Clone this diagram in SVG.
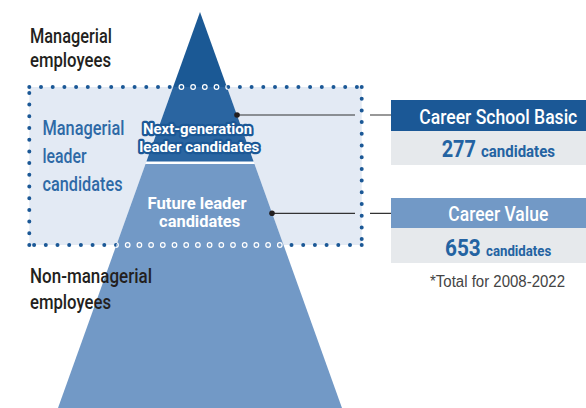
<svg xmlns="http://www.w3.org/2000/svg" width="586" height="408" viewBox="0 0 586 408">
  <style>
    .t { font-family: Roboto, "Liberation Sans", Arial, sans-serif; }
    .dark { fill: #231f20; font-size: 20px; font-weight: 500; }
    .blue { fill: #2e69a6; font-size: 20px; font-weight: 500; }
    .inner { fill: #ffffff; font-size: 15.5px; font-weight: bold; text-anchor: middle; }
    .outl { stroke: #1b5896; stroke-width: 4.5; stroke-linejoin: round; paint-order: stroke; }
    .hdr { fill: #ffffff; font-size: 20px; font-weight: 500; }
    .num { fill: #2463a2; font-weight: bold; }
    .note { fill: #444444; font-size: 16px; font-family: "Liberation Sans", Arial, sans-serif; }
    .dots { fill: none; stroke: #1b5896; stroke-width: 4; stroke-linecap: round; stroke-dasharray: 0 11.7; }
    .ring { fill: none; stroke: #ffffff; stroke-width: 5.8; stroke-linecap: round; stroke-dasharray: 0 11.7; }
    .conn { stroke: #333333; stroke-width: 1.2; fill: none; }
  </style>
  <defs>
    <mask id="outside">
      <rect width="586" height="408" fill="#ffffff"/>
      <polygon points="200,12 58,408 342,408" fill="#000000"/>
    </mask>
    <clipPath id="inside">
      <polygon points="200,12 58,408 342,408"/>
    </clipPath>
  </defs>

  <rect id="zone-bg" x="29.3" y="87" width="332.4" height="158" fill="#e3eaf4"/>

  <g id="pyramid">
    <polygon points="200,12 58,408 342,408" fill="#ffffff"/>
    <polygon points="200,12 173.1,87 226.9,87" fill="#1b5995"/>
    <polygon points="173.1,87 226.9,87 253.6,161.5 146.4,161.5" fill="#2a65a1"/>
    <polygon points="145.5,164 254.5,164 342,408 58,408" fill="#7299c6"/>
  </g>

  <g id="zone-border">
    <g mask="url(#outside)">
      <path class="dots" d="M29.3 87 H362"/>
      <path class="dots" d="M361.7 87 V245"/>
      <path class="dots" d="M361.7 245 H29"/>
      <path class="dots" d="M29.3 245 V87"/>
    </g>
    <g clip-path="url(#inside)">
      <path class="ring" d="M29.3 87 H362"/>
      <path class="dots" d="M29.3 87 H362" style="stroke:#1f5d99;stroke-width:3.4"/>
      <path class="ring" d="M361.7 245 H29"/>
      <path class="dots" d="M361.7 245 H29" style="stroke:#7299c6;stroke-width:3.4"/>
    </g>
  </g>

  <g id="label-managerial-employees" class="t">
    <text class="dark" x="30" y="43" textLength="82" lengthAdjust="spacingAndGlyphs">Managerial</text>
    <text class="dark" x="30" y="67" textLength="81" lengthAdjust="spacingAndGlyphs">employees</text>
  </g>

  <g id="label-managerial-leader-candidates" class="t">
    <text class="blue" x="42.5" y="135" textLength="82" lengthAdjust="spacingAndGlyphs">Managerial</text>
    <text class="blue" x="42.5" y="163" textLength="44" lengthAdjust="spacingAndGlyphs">leader</text>
    <text class="blue" x="42.5" y="191" textLength="80" lengthAdjust="spacingAndGlyphs">candidates</text>
  </g>

  <g id="label-non-managerial" class="t">
    <text class="dark" x="30" y="283" textLength="122" lengthAdjust="spacingAndGlyphs">Non-managerial</text>
    <text class="dark" x="30" y="309" textLength="81" lengthAdjust="spacingAndGlyphs">employees</text>
  </g>

  <g id="next-generation" class="t">
    <text class="inner outl" x="197.5" y="133.5" textLength="109" lengthAdjust="spacingAndGlyphs">Next-generation</text>
    <text class="inner outl" x="199.3" y="152" textLength="120" lengthAdjust="spacingAndGlyphs">leader candidates</text>
  </g>

  <g id="future-leader" class="t">
    <text class="inner" x="197" y="208.5" textLength="99" lengthAdjust="spacingAndGlyphs" style="font-size:16px">Future leader</text>
    <text class="inner" x="199.6" y="227" textLength="81" lengthAdjust="spacingAndGlyphs" style="font-size:16px">candidates</text>
  </g>

  <g id="connectors">
    <path class="conn" d="M237 115 H355 M370 115 H391"/>
    <circle cx="237" cy="115" r="2.8" fill="#231f20"/>
    <path class="conn" d="M272 213.3 H355 M370 213.3 H391"/>
    <circle cx="272" cy="213.3" r="2.8" fill="#231f20"/>
  </g>

  <g id="career-school-basic" class="t">
    <rect x="391" y="100" width="195" height="31" fill="#1b5896"/>
    <rect x="391" y="131" width="195" height="34" fill="#e6e9ec"/>
    <text class="hdr" x="419.3" y="123.5" textLength="158" lengthAdjust="spacingAndGlyphs">Career School Basic</text>
    <text class="num" x="441.7" y="157" textLength="34.3" lengthAdjust="spacingAndGlyphs" style="font-size:24px">277</text>
    <text class="num" x="481" y="157" textLength="74" lengthAdjust="spacingAndGlyphs" style="font-size:16px">candidates</text>
  </g>

  <g id="career-value" class="t">
    <rect x="391" y="198" width="195" height="30" fill="#7299c6"/>
    <rect x="391" y="228" width="195" height="35" fill="#e6e9ec"/>
    <text class="hdr" x="448.3" y="221" textLength="100" lengthAdjust="spacingAndGlyphs">Career Value</text>
    <text class="num" x="445" y="255.5" textLength="35.7" lengthAdjust="spacingAndGlyphs" style="font-size:24px">653</text>
    <text class="num" x="486" y="255.5" textLength="65.3" lengthAdjust="spacingAndGlyphs" style="font-size:14.5px">candidates</text>
  </g>

  <g id="footnote" class="t">
    <text class="note" x="430" y="287" textLength="135" lengthAdjust="spacingAndGlyphs">*Total for 2008-2022</text>
  </g>
</svg>
